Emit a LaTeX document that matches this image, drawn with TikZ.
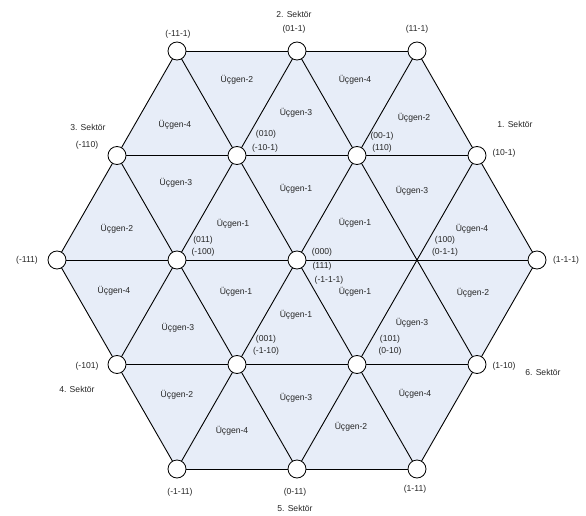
\documentclass[tikz,border=0pt]{standalone}
\usepackage{fontspec}
\setmainfont{Liberation Sans}
\begin{document}
\begin{tikzpicture}[x=1pt,y=-1pt,
  vtx/.style={circle,draw=black,fill=white,line width=0.8pt,minimum size=18pt,inner sep=0pt},
  edge/.style={draw=black,line width=0.9pt},
  lbl/.style={font=\fontsize{8.6}{10}\selectfont,inner sep=0pt,text=black!85}]
\useasboundingbox (0,0) rectangle (586,516);
\definecolor{hexfill}{RGB}{231,237,248}
% lattice points
\coordinate (a1) at (177,51);  \coordinate (a2) at (297,51);  \coordinate (a3) at (417,51);
\coordinate (b1) at (117,155.5); \coordinate (b2) at (237,155.5); \coordinate (b3) at (357,155.5); \coordinate (b4) at (477,155.5);
\coordinate (c1) at (57,260); \coordinate (c2) at (177,260); \coordinate (c3) at (297,260); \coordinate (c4) at (417,260); \coordinate (c5) at (537,260);
\coordinate (d1) at (117,364.5); \coordinate (d2) at (237,364.5); \coordinate (d3) at (357,364.5); \coordinate (d4) at (477,364.5);
\coordinate (e1) at (177,469); \coordinate (e2) at (297,469); \coordinate (e3) at (417,469);
% fill
\fill[hexfill] (a1) -- (a3) -- (c5) -- (e3) -- (e1) -- (c1) -- cycle;
% horizontal lines
\draw[edge] (a1) -- (a3);
\draw[edge] (b1) -- (b4);
\draw[edge] (c1) -- (c5);
\draw[edge] (d1) -- (d4);
\draw[edge] (e1) -- (e3);
% down-right lines
\draw[edge] (c1) -- (e1);
\draw[edge] (b1) -- (e2);
\draw[edge] (a1) -- (e3);
\draw[edge] (a2) -- (d4);
\draw[edge] (a3) -- (c5);
% down-left lines
\draw[edge] (a1) -- (c1);
\draw[edge] (a2) -- (d1);
\draw[edge] (a3) -- (e1);
\draw[edge] (b4) -- (e2);
\draw[edge] (c5) -- (e3);
% circles
\foreach \p in {a1,a2,a3,b1,b2,b3,b4,c1,c2,c3,c5,d1,d2,d3,d4,e1,e2,e3}
  \node[vtx] (v\p) at (\p) {};
% triangle labels
\node[lbl] (t1) at (237,80) {Üçgen-2};
\node[lbl] (t2) at (175,125) {Üçgen-4};
\node[lbl] (t3) at (296,113) {Üçgen-3};
\node[lbl] (t4) at (355,80) {Üçgen-4};
\node[lbl] (t5) at (414,118) {Üçgen-2};
\node[lbl] (t6) at (117,229) {Üçgen-2};
\node[lbl] (t7) at (176,183) {Üçgen-3};
\node[lbl] (t8) at (233,224) {Üçgen-1};
\node[lbl] (t9) at (296,189) {Üçgen-1};
\node[lbl] (t10) at (355,223) {Üçgen-1};
\node[lbl] (t11) at (412,191) {Üçgen-3};
\node[lbl] (t12) at (472,229) {Üçgen-4};
\node[lbl] (t13) at (114,291) {Üçgen-4};
\node[lbl] (t14) at (236,292) {Üçgen-1};
\node[lbl] (t15) at (178,328) {Üçgen-3};
\node[lbl] (t16) at (296,315) {Üçgen-1};
\node[lbl] (t17) at (355,292) {Üçgen-1};
\node[lbl] (t18) at (412,323) {Üçgen-3};
\node[lbl] (t19) at (473,293) {Üçgen-2};
\node[lbl] (t20) at (177,395) {Üçgen-2};
\node[lbl] (t21) at (232,431) {Üçgen-4};
\node[lbl] (t22) at (296,398) {Üçgen-3};
\node[lbl] (t23) at (351,427) {Üçgen-2};
\node[lbl] (t24) at (415,394) {Üçgen-4};
% vertex labels
\node[lbl] (s2) at (294,14) {2. Sektör};
\node[lbl] (l01) at (294,29) {(01-1)};
\node[lbl] (l02) at (178,34) {(-11-1)};
\node[lbl] (l03) at (417,29) {(11-1)};
\node[lbl] (s3) at (88,127) {3. Sektör};
\node[lbl] (l04) at (87,145) {(-110)};
\node[lbl] (l05) at (266,134) {(010)};
\node[lbl] (l06) at (265,148) {(-10-1)};
\node[lbl] (l07) at (382,136) {(00-1)};
\node[lbl] (l08) at (382,148) {(110)};
\node[lbl] (s1) at (515,124) {1. Sektör};
\node[lbl] (l09) at (504,153) {(10-1)};
\node[lbl] (l10) at (27,260) {(-111)};
\node[lbl] (l11) at (203,240) {(011)};
\node[lbl] (l12) at (203,252) {(-100)};
\node[lbl] (l13) at (322,252) {(000)};
\node[lbl] (l14) at (322,266) {(111)};
\node[lbl] (l15) at (329,280) {(-1-1-1)};
\node[lbl] (l16) at (445,240) {(100)};
\node[lbl] (l17) at (445,252) {(0-1-1)};
\node[lbl] (l18) at (566,260) {(1-1-1)};
\node[lbl] (l19) at (87,366) {(-101)};
\node[lbl] (s4) at (77,389) {4. Sektör};
\node[lbl] (l20) at (266,339) {(001)};
\node[lbl] (l21) at (266,351) {(-1-10)};
\node[lbl] (l22) at (390,339) {(101)};
\node[lbl] (l23) at (390,351) {(0-10)};
\node[lbl] (l24) at (504,366) {(1-10)};
\node[lbl] (s6) at (543,372) {6. Sektör};
\node[lbl] (l25) at (180,492) {(-1-11)};
\node[lbl] (l26) at (295,492) {(0-11)};
\node[lbl] (l27) at (415,489) {(1-11)};
\node[lbl] (s5) at (295,508) {5. Sektör};
\end{tikzpicture}
\end{document}
